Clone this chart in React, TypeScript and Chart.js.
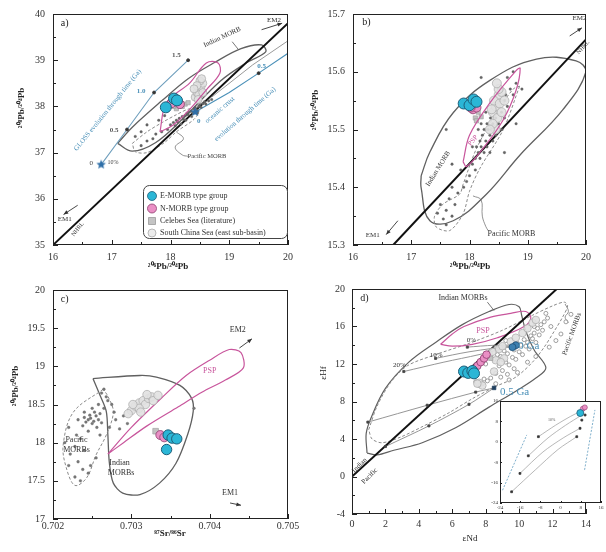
import React, { useEffect, useRef } from "react";
import { Chart, registerables } from "chart.js";

Chart.register(...registerables);

const SERIF = "'Liberation Serif', 'Times New Roman', serif";
type P = [number, number];
const xy = (a: P[]) => a.map(([x, y]) => ({ x, y }));

/* ================= a) 208Pb/204Pb vs 206Pb/204Pb ================= */
const aNHRL: P[] = [[16, 35], [20, 39.8]];
const aIndianMORB: P[] = [[17.1, 37.2], [17.35, 37.55], [17.85, 38.12], [18.3, 38.6], [18.75, 38.95], [19.2, 39.25], [19.55, 39.33], [19.62, 39.18], [19.3, 38.95], [18.85, 38.55], [18.2, 37.72], [17.75, 37.22], [17.35, 37.03], [17.1, 37.2]];
const aPacificMORB: P[] = [[17.35, 37.2], [17.6, 37.45], [17.87, 37.66], [18.1, 37.82], [18.33, 37.95], [18.48, 37.9], [18.4, 37.72], [18.1, 37.45], [17.9, 37.22], [17.6, 37.0], [17.4, 37.02], [17.35, 37.2]];
const aPSP: P[] = [[17.82, 37.45], [17.93, 38.08], [18.33, 38.51], [18.61, 38.94], [18.81, 38.94], [18.84, 38.72], [18.61, 38.36], [18.33, 37.94], [18.04, 37.59], [17.82, 37.45]];
const aGLOSS: P[] = [[16.82, 36.74], [17.26, 37.5], [17.72, 38.3], [18.3, 39.0]];
const aGLOSSAges: P[] = [[17.26, 37.5], [17.72, 38.3], [18.3, 39.0]];
const aOceanic: P[] = [[18.42, 37.88], [19.0, 38.3], [19.5, 38.72], [20, 39.15]];
const aOceanicAges: P[] = [[19.5, 38.72]];
const aGreyTrend: P[] = [[18.7, 38.2], [19.4, 38.9], [20, 39.42]];
const aPacLeader: P[] = [[18.1, 37.45], [18.22, 37.3], [18.08, 37.12], [18.2, 36.95], [18.3, 36.92]];
const aIndLeader: P[] = [[19.05, 39.4], [19.15, 39.24]];
const aStarGLOSS: P[] = [[16.82, 36.74]];
const aStarOceanic: P[] = [[18.42, 37.88]];
const aEMORB: P[] = [[17.92, 37.98], [18.06, 38.17], [18.11, 38.13]];
const aNMORB: P[] = [[18.13, 38.1], [18.02, 38.07], [18.16, 38.05]];
const aCelebes: P[] = [[18.1, 37.95], [18.2, 38.0], [18.25, 38.05], [18.15, 38.02], [18.3, 38.08], [18.05, 38.0]];
const aSCS: P[] = [[18.42, 38.2], [18.45, 38.3], [18.5, 38.35], [18.48, 38.25], [18.52, 38.42], [18.55, 38.5], [18.5, 38.55], [18.45, 38.45], [18.55, 38.3], [18.4, 38.38], [18.53, 38.6], [18.47, 38.15]];
const aPacDots: P[] = [[18.0, 37.6], [18.05, 37.65], [18.1, 37.7], [18.12, 37.66], [18.15, 37.74], [18.2, 37.78], [18.22, 37.72], [18.25, 37.8], [18.28, 37.85], [18.3, 37.82], [18.32, 37.88], [18.35, 37.9], [18.38, 37.86], [18.4, 37.95], [18.42, 37.98], [18.45, 37.92], [18.48, 38.0], [18.5, 38.04], [18.52, 37.98], [18.55, 38.06], [18.58, 38.1], [18.6, 38.05], [18.65, 38.12], [18.7, 38.15], [18.18, 37.62], [18.08, 37.58], [17.95, 37.5], [17.85, 37.45], [17.7, 37.3], [17.6, 37.25], [17.5, 37.15], [17.75, 37.4], [18.26, 37.7], [18.36, 37.78], [18.46, 37.86], [17.6, 37.6], [17.8, 37.7], [17.5, 37.45], [17.9, 37.8], [17.4, 37.35]];

/* ================= b) 207Pb/204Pb vs 206Pb/204Pb ================= */
const bNHRL: P[] = [[16.69, 15.3], [20, 15.656]];
const bIndianMORB: P[] = [[17.17, 15.42], [17.32, 15.461], [17.72, 15.529], [18.35, 15.585], [19.15, 15.622], [19.83, 15.619], [20.0, 15.6], [19.6, 15.534], [18.86, 15.455], [18.29, 15.388], [17.72, 15.342], [17.32, 15.342], [17.17, 15.399], [17.17, 15.42]];
const bPSP: P[] = [[17.89, 15.444], [18.0, 15.49], [18.35, 15.546], [18.8, 15.602], [18.87, 15.606], [18.8, 15.568], [18.58, 15.517], [18.23, 15.467], [17.95, 15.436], [17.89, 15.444]];
const bPacificMORB: P[] = [[18.86, 15.575], [18.58, 15.5], [18.18, 15.433], [18.0, 15.393], [17.89, 15.354], [17.66, 15.325], [17.43, 15.331], [17.4, 15.35], [17.55, 15.371], [17.83, 15.388], [17.89, 15.405], [18.12, 15.467], [18.46, 15.529], [18.75, 15.57], [18.86, 15.575]];
const bPacLeader: P[] = [[18.06, 15.385], [18.2, 15.378], [18.22, 15.35], [18.28, 15.332], [18.32, 15.325]];
const bEMORB: P[] = [[17.9, 15.545], [18.0, 15.542], [18.07, 15.552], [18.12, 15.548]];
const bNMORB: P[] = [[18.06, 15.535], [18.12, 15.538], [18.02, 15.538]];
const bCelebes: P[] = [[18.1, 15.52], [18.15, 15.53], [18.12, 15.515], [18.2, 15.522]];
const bSCS: P[] = [[18.4, 15.53], [18.45, 15.54], [18.5, 15.56], [18.42, 15.55], [18.48, 15.52], [18.52, 15.545], [18.55, 15.565], [18.5, 15.57], [18.45, 15.5], [18.4, 15.51], [18.38, 15.535], [18.55, 15.53], [18.6, 15.55], [18.47, 15.58], [18.35, 15.5]];
const bPacDots: P[] = [[18.05, 15.44], [18.1, 15.45], [18.12, 15.47], [18.15, 15.46], [18.18, 15.48], [18.2, 15.47], [18.22, 15.49], [18.25, 15.5], [18.28, 15.48], [18.3, 15.51], [18.32, 15.5], [18.35, 15.49], [18.36, 15.52], [18.38, 15.5], [18.4, 15.51], [18.42, 15.53], [18.45, 15.52], [18.48, 15.54], [18.5, 15.51], [18.52, 15.55], [18.55, 15.53], [18.6, 15.55], [18.62, 15.56], [18.65, 15.54], [18.7, 15.57], [18.75, 15.56], [18.8, 15.58], [18.25, 15.46], [18.3, 15.47], [18.18, 15.45], [18.4, 15.48], [18.45, 15.49], [18.55, 15.5], [18.6, 15.52], [18.0, 15.42], [17.95, 15.41], [18.1, 15.43], [17.9, 15.4], [17.85, 15.43], [18.35, 15.46], [18.28, 15.53], [18.2, 15.51], [18.15, 15.5], [18.05, 15.47], [18.5, 15.57], [18.65, 15.59], [18.9, 15.57], [18.75, 15.6], [18.2, 15.59], [17.5, 15.37], [17.6, 15.36], [17.7, 15.35], [17.55, 15.345], [17.65, 15.38], [17.75, 15.37], [17.45, 15.355], [17.8, 15.39], [17.7, 15.4], [17.6, 15.335], [17.7, 15.44], [17.6, 15.5], [18.6, 15.46], [18.8, 15.51]];

/* ================= c) 206Pb/204Pb vs 87Sr/86Sr ================= */
const cIndianMORB: P[] = [[0.70251, 18.84], [0.70311, 18.88], [0.70332, 18.86], [0.70362, 18.75], [0.70377, 18.58], [0.70379, 18.41], [0.70372, 18.11], [0.70357, 17.73], [0.70336, 17.47], [0.70311, 17.32], [0.70289, 17.34], [0.70277, 17.47], [0.70272, 17.73], [0.7027, 18.11], [0.70268, 18.41], [0.7026, 18.62], [0.70251, 18.84]];
const cPSP: P[] = [[0.7027, 17.85], [0.7030, 18.2], [0.7034, 18.6], [0.7037, 18.88], [0.7040, 19.08], [0.70425, 19.22], [0.7044, 19.18], [0.70443, 18.98], [0.7042, 18.82], [0.7039, 18.66], [0.7036, 18.47], [0.7032, 18.22], [0.7029, 18.0], [0.7027, 17.85]];
const cPacificMORB: P[] = [[0.70264, 18.7], [0.70226, 18.4], [0.70213, 17.97], [0.70217, 17.67], [0.70228, 17.44], [0.70243, 17.54], [0.70255, 17.84], [0.70268, 18.1], [0.70277, 18.4], [0.7027, 18.61], [0.70264, 18.7]];
const cEMORB: P[] = [[0.70347, 18.1], [0.70352, 18.06], [0.70358, 18.05], [0.70345, 17.91]];
const cNMORB: P[] = [[0.70337, 18.1], [0.70342, 18.07]];
const cCelebes: P[] = [[0.70331, 18.15]];
const cSCS: P[] = [[0.703, 18.42], [0.70305, 18.48], [0.7031, 18.52], [0.70315, 18.55], [0.70318, 18.5], [0.70322, 18.58], [0.70326, 18.6], [0.7031, 18.45], [0.70302, 18.5], [0.70328, 18.55], [0.70296, 18.38], [0.70334, 18.62], [0.7032, 18.63], [0.70312, 18.4]];
const cPacDots: P[] = [[0.70245, 18.3], [0.70248, 18.32], [0.70252, 18.28], [0.70255, 18.35], [0.7025, 18.25], [0.70242, 18.27], [0.70258, 18.3], [0.7026, 18.38], [0.70247, 18.36], [0.70253, 18.4], [0.7024, 18.33], [0.70262, 18.26], [0.70238, 18.22], [0.70256, 18.2], [0.70265, 18.45], [0.7027, 18.55], [0.70268, 18.6], [0.70262, 18.65], [0.70275, 18.5], [0.70258, 18.5], [0.7025, 18.45], [0.70245, 18.15], [0.7023, 18.1], [0.70235, 18.05], [0.70228, 17.95], [0.70222, 17.85], [0.7024, 17.9], [0.70232, 17.75], [0.70238, 17.65], [0.70245, 17.6], [0.70235, 17.5], [0.70228, 17.55], [0.70248, 17.7], [0.70255, 17.8], [0.7022, 17.7], [0.7026, 18.1], [0.70272, 18.2], [0.7028, 18.3], [0.70285, 18.18], [0.70295, 18.25], [0.7029, 18.35], [0.70278, 18.4], [0.7022, 18.2], [0.70215, 18.0], [0.70265, 18.7], [0.7038, 18.45], [0.7024, 18.4], [0.70232, 18.3]];

/* ================= d) eHf vs eNd ================= */
const dNHRL: P[] = [[0, 0], [12.25, 20]];
const dIndianMORB: P[] = [[0.9, 2.5], [0.85, 4.6], [1.15, 6.3], [2.0, 9.4], [3.4, 12.2], [5.0, 14.3], [6.6, 16.2], [8.2, 17.6], [9.4, 18.35], [10.0, 18.1], [10.15, 17.2], [10.4, 15.5], [10.9, 13.5], [11.6, 11.6], [11.0, 10.5], [9.8, 9.1], [8.2, 7.4], [6.2, 5.2], [4.2, 3.6], [2.5, 2.8], [1.5, 2.3], [0.9, 2.5]];
const dPSP: P[] = [[5.3, 14.1], [6.0, 15.2], [6.7, 16.0], [8.3, 17.0], [9.5, 17.4], [10.4, 17.6], [10.7, 16.9], [10.3, 16.0], [8.7, 14.8], [7.2, 14.1], [6.0, 13.9], [5.3, 14.1]];
const dPacificMORB: P[] = [[1.0, 5.0], [1.5, 7.5], [2.3, 10.0], [3.3, 11.8], [5, 13], [7, 14.2], [9, 15.6], [10.8, 17.2], [12.0, 18.2], [12.7, 18.6], [12.9, 18.2], [12.6, 17.0], [12.1, 15.5], [11.5, 13.8], [10.8, 12.2], [9.8, 10.6], [8.6, 9.6], [7.2, 8.3], [5.8, 6.8], [4.3, 5.4], [2.9, 4.2], [1.8, 3.6], [1.2, 4.0], [1.0, 5.0]];
const dMix20: P[] = [[3.1, 11.2], [5.5, 12.2], [7.6, 13.0], [9.8, 14.0]];
const dMix10: P[] = [[5.0, 12.6], [7.0, 13.3], [9.8, 14.0]];
const dMix0: P[] = [[6.9, 13.8], [8.5, 14.0], [9.8, 14.0]];
const dMixOld1: P[] = [[0.95, 5.8], [4.5, 7.6], [7.4, 9.0], [8.5, 9.45]];
const dMixOld2: P[] = [[2.0, 3.2], [4.6, 5.4], [7.0, 7.7], [8.5, 9.45]];
const dMixNodes: P[] = [[3.1, 11.2], [5.0, 12.6], [6.9, 13.8], [0.95, 5.8], [4.5, 7.6], [2.0, 3.2], [4.6, 5.4], [7.4, 9.0], [7.0, 7.7]];
const dAge0: P[] = [[9.8, 14.0], [9.6, 13.8]];
const dAge05: P[] = [[8.5, 9.45]];
const dIndLeader: P[] = [[8.1, 18.6], [8.5, 17.7]];
const dPacLeader: P[] = [[12.75, 18.4], [12.95, 17.6], [12.75, 17.0], [12.95, 16.4]];
const dEMORB: P[] = [[6.7, 11.2], [6.95, 11.05], [7.2, 11.25], [7.3, 11.0]];
const dNMORB: P[] = [[7.5, 11.8], [7.7, 12.2], [7.9, 12.6], [8.05, 13.0]];
const dCelebes: P[] = [[8.1, 12.8], [8.3, 12.6]];
const dSCS: P[] = [[8.2, 13.0], [8.4, 13.3], [8.8, 13.6], [9.0, 13.9], [8.6, 12.4], [8.5, 11.2], [7.6, 10.0], [7.8, 9.7], [7.5, 9.9], [9.1, 12.6], [8.9, 12.2], [10.2, 15.3], [10.5, 15.8], [10.8, 16.4], [11.0, 16.7], [9.5, 14.4], [9.8, 14.8]];
const dPacDots: P[] = [[8.5, 12.5], [8.7, 13], [8.9, 12.8], [9.1, 13.4], [9.3, 13.1], [9.5, 13.8], [9.7, 13.5], [9.9, 14.2], [10.1, 14], [10.3, 14.6], [10.5, 14.3], [10.7, 15], [10.9, 15.3], [11.1, 15.8], [11.3, 16.2], [11.5, 16.5], [11.7, 16.9], [11.2, 15.1], [10.8, 14.7], [10.4, 13.9], [10.0, 13.3], [9.6, 12.7], [9.2, 12.2], [8.8, 11.8], [9.0, 11.3], [9.4, 11.9], [9.8, 12.5], [10.2, 13.0], [10.6, 13.6], [11.0, 14.3], [9.3, 10.9], [9.7, 11.5], [8.6, 11.0], [8.3, 10.5], [8.1, 10.2], [7.8, 9.9], [7.6, 9.7], [7.4, 10.1], [7.9, 10.4], [8.9, 10.6], [10.9, 16.0], [11.4, 15.6], [11.6, 17.4], [11.9, 16.0], [12.2, 14.5], [12.5, 15.2], [11.8, 13.8], [11.0, 12.8], [10.5, 12.2], [9.9, 11.1], [9.4, 10.3], [8.6, 9.9], [8.0, 12.0], [8.3, 12.9], [8.6, 13.8], [9.2, 14.5], [12.8, 16.5], [13.1, 17.3]];

/* ================= d) inset ================= */
const iBlueLeft: P[] = [[-23, -19], [-13.4, 2.7]];
const iBlueRight: P[] = [[9.5, -11], [13.6, 12.5]];
const iCurve1: P[] = [[-8.8, 2.0], [-2, 6.5], [4, 10], [8, 12]];
const iCurve2: P[] = [[-12.8, -5.5], [-5, 1.5], [2, 6.5], [8.4, 10.5]];
const iCurve3: P[] = [[-16.1, -12.4], [-7, -4], [1, 1.5], [7.7, 5.3]];
const iCurve4: P[] = [[-19.4, -19.6], [-10, -11], [-1, -3], [6.4, 2.0]];
const iNodes: P[] = [[-19.4, -19.6], [-16.1, -12.4], [-12.8, -5.5], [-8.8, 2.0], [6.4, 2.0], [7.7, 5.3], [8.4, 8.5], [9.7, 10.5]];
const iEMORB: P[] = [[7.8, 11.3]];
const iNMORB: P[] = [[8.8, 13.0], [9.6, 13.5]];

/* ================= colours ================= */
const C_CYAN = "#2bb6d6", C_CYAN_B = "#1d5f7a";
const C_PINK = "#ea8fc5", C_PINK_B = "#8e3d6e";
const C_IND = "#606060", C_PAC = "#8a8a8a", C_PSP = "#c8559c";
const C_BLUE = "#4a90b8";

/* ================= helpers ================= */
const line = (data: P[], color: string, width = 1, dash: number[] = [], tension = 0) => ({
  data: xy(data), showLine: true, borderColor: color, borderWidth: width, borderDash: dash,
  pointRadius: 0, tension, fill: false,
});
const pts = (data: P[], style: any, r: number, bg: string, border: string, bw = 0.8) => ({
  data: xy(data), showLine: false, pointStyle: style, pointRadius: r,
  backgroundColor: bg, borderColor: border, borderWidth: bw,
});

function starImg(r: number, fill: string) {
  const c = document.createElement("canvas");
  const s = Math.ceil(r * 2 + 2);
  c.width = s; c.height = s;
  const g = c.getContext("2d")!;
  g.beginPath();
  for (let i = 0; i < 10; i++) {
    const a = -Math.PI / 2 + (i * Math.PI) / 5;
    const rr = i % 2 === 0 ? r : r * 0.45;
    g.lineTo(s / 2 + rr * Math.cos(a), s / 2 + rr * Math.sin(a));
  }
  g.closePath(); g.fillStyle = fill; g.fill();
  return c;
}

type Area = { l: number; t: number; r: number; b: number };

function drawText(ctx: any, t: string, x: number, y: number, rot = 0, font = `8px ${SERIF}`, color = "#333", align = "center") {
  ctx.save(); ctx.translate(x, y); if (rot) ctx.rotate((rot * Math.PI) / 180);
  ctx.font = font; ctx.fillStyle = color; ctx.textAlign = align; ctx.textBaseline = "middle";
  ctx.fillText(t, 0, 0); ctx.restore();
}

function decoPlugin(d: any) {
  return {
    id: "deco",
    beforeDraw(chart: any) {
      if (!d.fill) return;
      const { left, top, right, bottom } = chart.chartArea;
      const ctx = chart.ctx; ctx.save(); ctx.fillStyle = d.fill;
      ctx.fillRect(left, top, right - left, bottom - top); ctx.restore();
    },
    afterDatasetsDraw(chart: any) {
      const ctx = chart.ctx; const sx = chart.scales.x, sy = chart.scales.y;
      const X = (v: number) => sx.getPixelForValue(v), Y = (v: number) => sy.getPixelForValue(v);
      (d.arrows || []).forEach((a: any) => {
        const x1 = X(a.from[0]), y1 = Y(a.from[1]), x2 = X(a.to[0]), y2 = Y(a.to[1]);
        const ang = Math.atan2(y2 - y1, x2 - x1);
        ctx.save(); ctx.strokeStyle = "#333"; ctx.fillStyle = "#333"; ctx.lineWidth = 0.9;
        ctx.beginPath(); ctx.moveTo(x1, y1); ctx.lineTo(x2, y2); ctx.stroke();
        ctx.beginPath(); ctx.moveTo(x2, y2);
        ctx.lineTo(x2 - 5 * Math.cos(ang - 0.4), y2 - 5 * Math.sin(ang - 0.4));
        ctx.lineTo(x2 - 5 * Math.cos(ang + 0.4), y2 - 5 * Math.sin(ang + 0.4));
        ctx.closePath(); ctx.fill(); ctx.restore();
      });
      (d.texts || []).forEach((t: any) => drawText(ctx, t.t, X(t.x), Y(t.y), t.r || 0, t.f, t.c, t.a));
    },
    afterDraw(chart: any) {
      const ctx = chart.ctx; const { left, top, right, bottom } = chart.chartArea;
      ctx.save(); ctx.strokeStyle = "#222"; ctx.lineWidth = d.frameW || 1;
      ctx.strokeRect(left + 0.5, top + 0.5, right - left - 1, bottom - top - 1);
      const maj = d.major || 5, min = d.minor || 3;
      ctx.lineWidth = 1; ctx.beginPath();
      chart.scales.x.ticks.forEach((tk: any, i: number) => {
        const p = Math.round(chart.scales.x.getPixelForTick(i)) + 0.5;
        const len = tk.label === "" ? min : maj;
        ctx.moveTo(p, bottom); ctx.lineTo(p, bottom - len);
      });
      chart.scales.y.ticks.forEach((tk: any, i: number) => {
        const p = Math.round(chart.scales.y.getPixelForTick(i)) + 0.5;
        const len = tk.label === "" ? min : maj;
        ctx.moveTo(left, p); ctx.lineTo(left + len, p);
      });
      ctx.stroke(); ctx.restore();
      (d.titles || []).forEach((t: any) => drawText(ctx, t.t, t.x, t.y, t.r || 0, t.f, t.c || "#222"));
      const lg = d.legend;
      if (lg) {
        ctx.save();
        const [x1, y1, x2, y2] = lg.box;
        ctx.beginPath();
        if (ctx.roundRect) ctx.roundRect(x1 + 0.5, y1 + 0.5, x2 - x1, y2 - y1, 6); else ctx.rect(x1, y1, x2 - x1, y2 - y1);
        ctx.fillStyle = "#fff"; ctx.fill(); ctx.strokeStyle = "#444"; ctx.lineWidth = 1; ctx.stroke();
        lg.items.forEach((it: any) => {
          ctx.beginPath();
          if (it.kind === "square") ctx.rect(lg.mx - it.r, it.y - it.r, it.r * 2, it.r * 2);
          else ctx.arc(lg.mx, it.y, it.r, 0, Math.PI * 2);
          ctx.fillStyle = it.fill; ctx.fill(); ctx.strokeStyle = it.stroke; ctx.lineWidth = 0.8; ctx.stroke();
          drawText(ctx, it.text, lg.tx, it.y, 0, `8px ${SERIF}`, "#333", "left");
        });
        ctx.restore();
      }
    },
  };
}

function axis(min: number, max: number, step: number, fmt: (v: number) => string, pad: number, size: number, fit: (s: any) => void) {
  return {
    type: "linear", min, max,
    grid: { display: false, drawTicks: false },
    border: { display: false },
    ticks: { stepSize: step, autoSkip: false, maxRotation: 0, padding: pad, color: "#333", font: { family: SERIF, size }, callback: (v: any) => fmt(Number(v)) },
    afterFit: fit,
  };
}

const near = (v: number, m: number) => Math.abs(v / m - Math.round(v / m)) < 1e-6;

function makeConfig(W: number, H: number, area: Area, xs: any, ys: any, datasets: any[], deco: any) {
  return {
    type: "scatter",
    data: { datasets },
    options: {
      responsive: false, animation: false, events: [],
      layout: { padding: { left: 0, top: area.t, right: W - area.r, bottom: 0 } },
      plugins: { legend: { display: false }, tooltip: { enabled: false } },
      scales: {
        x: axis(xs.min, xs.max, xs.step, xs.fmt, xs.pad, xs.size || 10, (s: any) => { s.height = H - area.b; }),
        y: axis(ys.min, ys.max, ys.step, ys.fmt, ys.pad, ys.size || 10, (s: any) => { s.width = area.l; }),
      },
    },
    plugins: [decoPlugin({ ...deco, area })],
  };
}

const TF = `bold 9px ${SERIF}`;
const LF = `7px ${SERIF}`;

function buildA(W: number, H: number) {
  const area = { l: 53, t: 10, r: 288, b: 245 };
  const star = starImg(5, "#2f6fa8");
  const ds = [
    pts(aEMORB, "circle", 5.5, C_CYAN, C_CYAN_B, 1),
    pts(aNMORB, "circle", 4.5, C_PINK, C_PINK_B, 0.8),
    pts(aStarGLOSS, star, 5, "#2f6fa8", "#2f6fa8"),
    pts(aStarOceanic, star, 5, "#2f6fa8", "#2f6fa8"),
    pts(aGLOSSAges, "circle", 1.5, "#333", "#333"),
    pts(aOceanicAges, "circle", 1.5, "#333", "#333"),
    line(aPSP, C_PSP, 1.2, [], 0.35),
    pts(aCelebes, "rect", 3, "#c2c2c2", "#9a9a9a", 0.6),
    pts(aSCS, "circle", 4, "rgba(225,225,225,0.9)", "#a8a8a8", 0.7),
    pts(aPacDots, "circle", 1.3, "#666", "#555", 0.3),
    line(aNHRL, "#111", 2),
    line(aGLOSS, "#6f9fbd", 1.1),
    line(aOceanic, C_BLUE, 1.1),
    line(aGreyTrend, "#9a9a9a", 1),
    line(aPacificMORB, C_PAC, 1, [3, 2], 0.3),
    line(aIndianMORB, C_IND, 1.3, [], 0.35),
    line(aPacLeader, "#777", 0.8, [], 0.4),
    line(aIndLeader, "#555", 0.8),
  ];
  const deco = {
    texts: [
      { t: "a)", x: 16.2, y: 39.79, f: `10px ${SERIF}`, c: "#222" },
      { t: "Indian MORB", x: 18.88, y: 39.5, r: -25, f: LF },
      { t: "EM2", x: 19.76, y: 39.87, f: LF },
      { t: "EM1", x: 16.2, y: 35.55, f: LF },
      { t: "NHRL", x: 16.42, y: 35.34, r: -52, f: `6px ${SERIF}` },
      { t: "GLOSS evolution through time (Ga)", x: 16.93, y: 37.92, r: -51, f: LF, c: C_BLUE },
      { t: "oceanic crust", x: 18.84, y: 37.92, r: -41, f: LF, c: C_BLUE },
      { t: "evolution through time (Ga)", x: 19.27, y: 37.83, r: -41, f: LF, c: C_BLUE },
      { t: "1.5", x: 18.1, y: 39.1, f: `bold 7px ${SERIF}`, c: "#555" },
      { t: "1.0", x: 17.5, y: 38.32, f: `bold 7px ${SERIF}`, c: C_BLUE },
      { t: "0.5", x: 17.04, y: 37.48, f: `bold 7px ${SERIF}`, c: "#555" },
      { t: "0", x: 16.65, y: 36.77, f: `7px ${SERIF}`, c: "#444" },
      { t: "10%", x: 17.02, y: 36.79, f: `6px ${SERIF}`, c: "#444" },
      { t: "0", x: 18.48, y: 37.68, f: `bold 7px ${SERIF}`, c: C_BLUE },
      { t: "0.5", x: 19.55, y: 38.88, f: `bold 7px ${SERIF}`, c: C_BLUE },
      { t: "Pacific MORB", x: 18.62, y: 36.91, f: `6.5px ${SERIF}`, c: "#444" },
    ],
    arrows: [
      { from: [19.55, 39.66], to: [19.9, 39.8] },
      { from: [16.42, 35.86], to: [16.18, 35.66] },
    ],
    titles: [
      { t: "²⁰⁸Pb/²⁰⁴Pb", x: 22, y: 108, r: -90, f: TF },
      { t: "²⁰⁶Pb/²⁰⁴Pb", x: 168, y: 267, f: TF },
    ],
    legend: {
      box: [143, 185, 287, 238], mx: 152, tx: 160,
      items: [
        { y: 196, kind: "circle", r: 4.5, fill: C_CYAN, stroke: C_CYAN_B, text: "E-MORB type group" },
        { y: 208.5, kind: "circle", r: 4.5, fill: C_PINK, stroke: C_PINK_B, text: "N-MORB type group" },
        { y: 221, kind: "square", r: 3.5, fill: "#c4c4c4", stroke: "#9a9a9a", text: "Celebes Sea (literature)" },
        { y: 233, kind: "circle", r: 4, fill: "#ececec", stroke: "#aaaaaa", text: "South China Sea (east sub-basin)" },
      ],
    },
  };
  return makeConfig(W, H, area,
    { min: 16, max: 20, step: 0.5, fmt: (v: number) => (near(v, 1) ? String(Math.round(v)) : ""), pad: 6 },
    { min: 35, max: 40, step: 0.5, fmt: (v: number) => (near(v, 1) ? String(Math.round(v)) : ""), pad: 8 },
    ds, deco);
}

function buildB(W: number, H: number) {
  const area = { l: 50, t: 9, r: 283, b: 245 };
  const ds = [
    pts(bEMORB, "circle", 5.5, C_CYAN, C_CYAN_B, 1),
    pts(bNMORB, "circle", 4.5, C_PINK, C_PINK_B, 0.8),
    line(bPSP, C_PSP, 1.2, [], 0.35),
    pts(bCelebes, "rect", 3, "#c2c2c2", "#9a9a9a", 0.6),
    pts(bSCS, "circle", 4.5, "rgba(225,225,225,0.9)", "#a8a8a8", 0.7),
    pts(bPacDots, "circle", 1.3, "#666", "#555", 0.3),
    line(bNHRL, "#111", 2),
    line(bPacificMORB, C_PAC, 1, [3, 2], 0.3),
    line(bIndianMORB, C_IND, 1.3, [], 0.4),
    line(bPacLeader, "#777", 0.8, [], 0.4),
  ];
  const deco = {
    texts: [
      { t: "b)", x: 16.23, y: 15.685, f: `10px ${SERIF}`, c: "#222" },
      { t: "Indian MORB", x: 17.46, y: 15.432, r: -58, f: LF },
      { t: "PSP", x: 18.06, y: 15.481, r: -50, f: LF, c: C_PSP },
      { t: "Pacific MORB", x: 18.72, y: 15.32, f: `8px ${SERIF}`, c: "#333" },
      { t: "EM1", x: 16.34, y: 15.317, f: LF },
      { t: "EM2", x: 19.89, y: 15.693, f: LF },
      { t: "NHRL", x: 19.95, y: 15.642, r: -47, f: `6px ${SERIF}` },
    ],
    arrows: [
      { from: [16.77, 15.342], to: [16.57, 15.318] },
      { from: [19.72, 15.662], to: [19.93, 15.676] },
    ],
    titles: [
      { t: "²⁰⁷Pb/²⁰⁴Pb", x: 13, y: 110, r: -90, f: TF },
      { t: "²⁰⁶Pb/²⁰⁴Pb", x: 167, y: 267, f: TF },
    ],
  };
  return makeConfig(W, H, area,
    { min: 16, max: 20, step: 0.5, fmt: (v: number) => (near(v, 1) ? String(Math.round(v)) : ""), pad: 6 },
    { min: 15.3, max: 15.7, step: 0.05, fmt: (v: number) => (near(v, 0.1) ? v.toFixed(1) : ""), pad: 8 },
    ds, deco);
}

function buildC(W: number, H: number) {
  const area = { l: 53, t: 9, r: 288, b: 243 };
  const ds = [
    pts(cEMORB, "circle", 5.2, C_CYAN, C_CYAN_B, 1),
    pts(cNMORB, "circle", 4.5, C_PINK, C_PINK_B, 0.8),
    pts(cCelebes, "rect", 4, "#c2c2c2", "#9a9a9a", 0.6),
    pts(cSCS, "circle", 4.2, "rgba(225,225,225,0.9)", "#a8a8a8", 0.7),
    pts(cPacDots, "circle", 1.4, "#777", "#666", 0.3),
    line(cPSP, C_PSP, 1.2, [], 0.3),
    line(cPacificMORB, C_PAC, 1, [3, 2], 0.35),
    line(cIndianMORB, C_IND, 1.3, [], 0.3),
  ];
  const deco = {
    texts: [
      { t: "c)", x: 0.70215, y: 19.88, f: `10px ${SERIF}`, c: "#222" },
      { t: "PSP", x: 0.704, y: 18.94, f: `8px ${SERIF}`, c: C_PSP },
      { t: "EM2", x: 0.70436, y: 19.48, f: `8px ${SERIF}` },
      { t: "EM1", x: 0.70426, y: 17.34, f: `8px ${SERIF}` },
      { t: "Pacific", x: 0.7023, y: 18.03, f: `8px ${SERIF}` },
      { t: "MORBs", x: 0.7023, y: 17.9, f: `8px ${SERIF}` },
      { t: "Indian", x: 0.70285, y: 17.73, f: `8px ${SERIF}` },
      { t: "MORBs", x: 0.70287, y: 17.6, f: `8px ${SERIF}` },
    ],
    arrows: [
      { from: [0.70438, 19.24], to: [0.70454, 19.36] },
      { from: [0.70426, 17.21], to: [0.7044, 17.18] },
    ],
    titles: [
      { t: "²⁰⁶Pb/²⁰⁴Pb", x: 16, y: 110, r: -90, f: TF },
      { t: "⁸⁷Sr/⁸⁶Sr", x: 170, y: 258, f: TF },
    ],
  };
  return makeConfig(W, H, area,
    { min: 0.702, max: 0.705, step: 0.0005, fmt: (v: number) => (near(v, 0.001) ? v.toFixed(3) : ""), pad: 1 },
    { min: 17, max: 20, step: 0.25, fmt: (v: number) => (near(v, 0.5) ? String(v) : ""), pad: 8 },
    ds, deco);
}

function buildD(W: number, H: number) {
  const area = { l: 49, t: 9, r: 283, b: 238 };
  const ds = [
    pts(dEMORB, "circle", 5.5, C_CYAN, C_CYAN_B, 1),
    pts(dNMORB, "circle", 3.8, C_PINK, C_PINK_B, 0.8),
    pts(dAge0, "circle", 3.5, "#3b7fb0", "#1f4f75", 0.8),
    pts(dAge05, "rect", 2.5, "#1f3f5f", "#1f3f5f"),
    pts(dMixNodes, "rect", 1.5, "#444", "#444"),
    pts(dCelebes, "rect", 3, "#c2c2c2", "#9a9a9a", 0.6),
    pts(dSCS, "circle", 3.8, "rgba(225,225,225,0.9)", "#a8a8a8", 0.7),
    pts(dPacDots, "circle", 2, "rgba(255,255,255,0.6)", "#888", 0.8),
    line(dNHRL, "#111", 2),
    line(dMix20, "#8a8a8a", 0.9, [], 0.3),
    line(dMix10, "#8a8a8a", 0.9, [], 0.3),
    line(dMix0, "#8a8a8a", 0.9, [], 0.3),
    line(dMixOld1, "#8a8a8a", 0.9, [], 0.3),
    line(dMixOld2, "#8a8a8a", 0.9, [], 0.3),
    line(dPSP, C_PSP, 1.2, [], 0.35),
    line(dPacificMORB, C_PAC, 1, [3, 2], 0.3),
    line(dIndianMORB, C_IND, 1.2, [], 0.35),
    line(dIndLeader, "#555", 0.8),
    line(dPacLeader, "#777", 0.8, [], 0.4),
  ];
  const deco = {
    texts: [
      { t: "d)", x: 0.74, y: 19.0, f: `10px ${SERIF}`, c: "#222" },
      { t: "Indian MORBs", x: 6.64, y: 19.06, f: `8px ${SERIF}` },
      { t: "PSP", x: 7.84, y: 15.56, f: `8px ${SERIF}`, c: C_PSP },
      { t: "20%", x: 2.84, y: 11.83, f: LF },
      { t: "10%", x: 5.04, y: 12.9, f: LF },
      { t: "0%", x: 7.14, y: 14.5, f: LF },
      { t: "0 Ga", x: 9.95, y: 13.9, f: `11px ${SERIF}`, c: C_BLUE, a: "left" },
      { t: "0.5 Ga", x: 8.85, y: 9.0, f: `11px ${SERIF}`, c: C_BLUE, a: "left" },
      { t: "Pacific MORBs", x: 13.15, y: 15.2, r: -70, f: LF },
      { t: "Indian", x: 0.45, y: 1.2, r: -45, f: LF },
      { t: "Pacific", x: 1.05, y: 0.05, r: -45, f: LF },
    ],
    titles: [
      { t: "εHf", x: 21, y: 97, r: -90, f: `9px ${SERIF}` },
      { t: "εNd", x: 167, y: 263, f: `9px ${SERIF}` },
    ],
  };
  return makeConfig(W, H, area,
    { min: 0, max: 14, step: 1, fmt: (v: number) => (near(v, 2) ? String(Math.round(v)) : ""), pad: 4 },
    { min: -4, max: 20, step: 2, fmt: (v: number) => (near(v, 4) ? String(Math.round(v)) : ""), pad: 7 },
    ds, deco);
}

function buildInset(W: number, H: number) {
  const area = { l: 15, t: 6, r: 116, b: 108 };
  const ds = [
    pts(iEMORB, "circle", 3.5, C_CYAN, C_CYAN_B, 0.8),
    pts(iNMORB, "circle", 2.5, C_PINK, C_PINK_B, 0.6),
    pts(iNodes, "rect", 1.3, "#333", "#333"),
    line(iCurve1, "#9a9a9a", 0.7, [], 0.3),
    line(iCurve2, "#9a9a9a", 0.7, [], 0.3),
    line(iCurve3, "#9a9a9a", 0.7, [], 0.3),
    line(iCurve4, "#9a9a9a", 0.7, [], 0.3),
    line(iBlueLeft, "#7fb0cc", 1, [2, 1.5]),
    line(iBlueRight, "#7fb0cc", 1, [2, 1.5]),
  ];
  const deco = {
    fill: "#ffffff", major: 2, minor: 2, frameW: 1,
    texts: [{ t: "10%", x: -3.5, y: 8.5, f: `4px ${SERIF}`, c: "#555" }],
  };
  return makeConfig(W, H, area,
    { min: -24, max: 16, step: 8, fmt: (v: number) => String(Math.round(v)), pad: 2, size: 5 },
    { min: -24, max: 16, step: 8, fmt: (v: number) => String(Math.round(v)), pad: 2, size: 5 },
    ds, deco);
}

function Panel({ left, top, width, height, build }: any) {
  const ref = useRef<HTMLCanvasElement>(null);
  useEffect(() => {
    const chart = new Chart(ref.current as any, build(width, height) as any);
    return () => chart.destroy();
  }, []);
  return (
    <canvas ref={ref} width={width} height={height}
      style={{ position: "absolute", left, top, width, height, display: "block" }} />
  );
}

export default function App() {
  return (
    <div style={{ position: "absolute", left: 0, top: 0, width: 606, height: 552, background: "#fff", overflow: "hidden" }}>
      <Panel left={0} top={0} width={303} height={276} build={buildA} />
      <Panel left={303} top={0} width={303} height={276} build={buildB} />
      <Panel left={0} top={276} width={303} height={276} build={buildC} />
      <Panel left={303} top={276} width={303} height={276} build={buildD} />
      <Panel left={485} top={395} width={121} height={125} build={buildInset} />
    </div>
  );
}
